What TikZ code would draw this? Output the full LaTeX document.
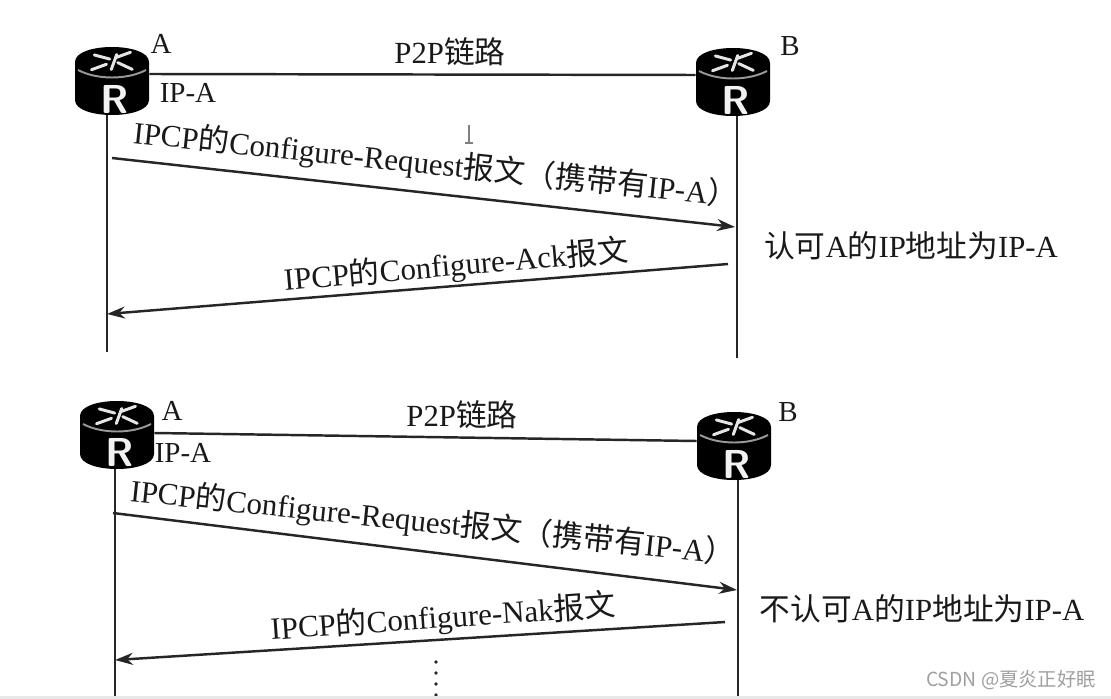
\documentclass[tikz,border=0pt]{standalone}
\usepackage{fontspec}
\setmainfont{Liberation Serif}
\newfontfamily\cjk{Noto Sans CJK SC}
\usetikzlibrary{arrows.meta,calc}
\newcommand{\zh}[1]{{\cjk #1}}
\newcommand{\routerbody}[1]{%
  \begin{scope}[shift={(#1.center)}]
    \fill[black] (-37,-19) .. controls (-37,-39) and (37,-39) .. (37,-19) -- (37,19)
                 .. controls (37,39) and (-37,39) .. (-37,19) -- cycle;
    \draw[gray!80,line width=1.1pt] (-34,-11) .. controls (-15,-1) and (15,-1) .. (34,-11);
    \foreach \px/\py/\ang in {-10/-24/-15,11/-26/20,-13/-14/20,13/-15/-25,2/-19/70}
      \draw[white!80!gray,line width=1.7pt,line cap=round,rotate around={\ang:(\px,\py)}] (\px-8,\py) -- (\px+8,\py);
  \end{scope}}
\tikzset{
  router/.style   = {rectangle, inner sep=0pt, minimum width=1.48cm, minimum height=1.36cm},
  rlabel/.style   = {font=\sffamily\bfseries\fontsize{23}{23}\selectfont, text=white!90!gray, inner sep=0pt},
  wire/.style     = {line width=1.4pt, black!85},
  msg/.style      = {-{Stealth[length=3.6mm,width=2.4mm]}, line width=1.4pt, black!85},
  msgtext/.style  = {font=\fontsize{17.6}{17.6}\selectfont, inner sep=0pt, text=black!90},
  note/.style     = {font=\fontsize{17.5}{17.5}\selectfont, inner sep=0pt, text=black!90},
  smallnote/.style= {font=\fontsize{16.5}{16.5}\selectfont, inner sep=0pt, text=black!90},
}
\begin{document}
\begin{tikzpicture}[x=0.02cm,y=-0.02cm]
  \useasboundingbox (0,0) rectangle (1111,699);

  % ---------------- upper exchange ----------------------------------------
  \node[router] (rtrA) at (112,81) {};
  \node[router] (rtrB) at (733,82) {};
  \routerbody{rtrA}
  \routerbody{rtrB}
  \node[rlabel] (rA) at (115,99) {R};
  \node[rlabel] (rB) at (736,100) {R};
  \node[smallnote] (nameA) at (161,44) {A};
  \node[smallnote] (nameB) at (790,46) {B};
  \node[smallnote] (addrA) at (188,93) {IP-A};
  \draw[wire] (rtrA.east |- 0,74) -- (rtrB.west |- 0,75);
  \node[note] (linkU) at (450,52) {P2P\zh{链路}};

  \coordinate (endA) at (107,352);
  \coordinate (endB) at (737,358);
  \draw[wire] (rtrA.south -| endA) -- (endA);
  \draw[wire] (rtrB.south -| endB) -- (endB);

  \coordinate (reqS) at (112,158);
  \coordinate (reqE) at (735,227);
  \coordinate (ackS) at (728,264);
  \coordinate (ackE) at (107,314);
  \draw[msg] (reqS) -- (reqE);
  \draw[msg] (ackS) -- (ackE);
  \node[msgtext,rotate=-6] (reqU) at (436,165) {IPCP\zh{的}Configure-Request\zh{报文（携带有}IP-A\zh{）}};
  \node[msgtext,rotate=5] (ackU) at (456,266) {IPCP\zh{的}Configure-Ack\zh{报文}};
  \node[note] (okU) at (911,246) {\zh{认可}A\zh{的}IP\zh{地址为}IP-A};

  % cursor
  \draw[gray,line width=0.6pt] (469,125) -- (469,143) (465,143) -- (473,143);

  % ---------------- lower exchange ----------------------------------------
  \node[router] (rtrC) at (117,435) {};
  \node[router] (rtrD) at (734,446) {};
  \routerbody{rtrC}
  \routerbody{rtrD}
  \node[rlabel] (rC) at (120,452) {R};
  \node[rlabel] (rD) at (737,464) {R};
  \node[smallnote] (nameC) at (172,411) {A};
  \node[smallnote] (nameD) at (788,412) {B};
  \node[smallnote] (addrC) at (183,453) {IP-A};
  \draw[wire] (rtrC.east |- 0,433) -- (rtrD.west |- 0,441);
  \node[note] (linkL) at (462,415) {P2P\zh{链路}};

  \coordinate (endC) at (115,699);
  \coordinate (endD) at (738,696);
  \draw[wire] (rtrC.south -| endC) -- (endC);
  \draw[wire] (rtrD.south -| endD) -- (endD);

  \coordinate (reqT) at (113,513);
  \coordinate (reqF) at (737,590);
  \coordinate (nakS) at (725,622);
  \coordinate (nakE) at (115,660);
  \draw[msg] (reqT) -- (reqF);
  \draw[msg] (nakS) -- (nakE);
  \node[msgtext,rotate=-6] (reqL) at (433,523) {IPCP\zh{的}Configure-Request\zh{报文（携带有}IP-A\zh{）}};
  \node[msgtext,rotate=4] (nakL) at (443,618) {IPCP\zh{的}Configure-Nak\zh{报文}};
  \node[note] (noL) at (922,609) {\zh{不认可}A\zh{的}IP\zh{地址为}IP-A};

  \foreach \dy in {662,673,684,695}
    \fill[black!85] (436,\dy) circle (1.8);

  % ---------------- screenshot edge and watermark --------------------------
  \fill[gray!18] (0,696) rectangle (1111,699);
  \node[font=\cjk\fontsize{11}{11}\selectfont,text=gray!75,inner sep=0pt] (wmark) at (1011,680) {CSDN @夏炎正好眠};
\end{tikzpicture}
\end{document}
